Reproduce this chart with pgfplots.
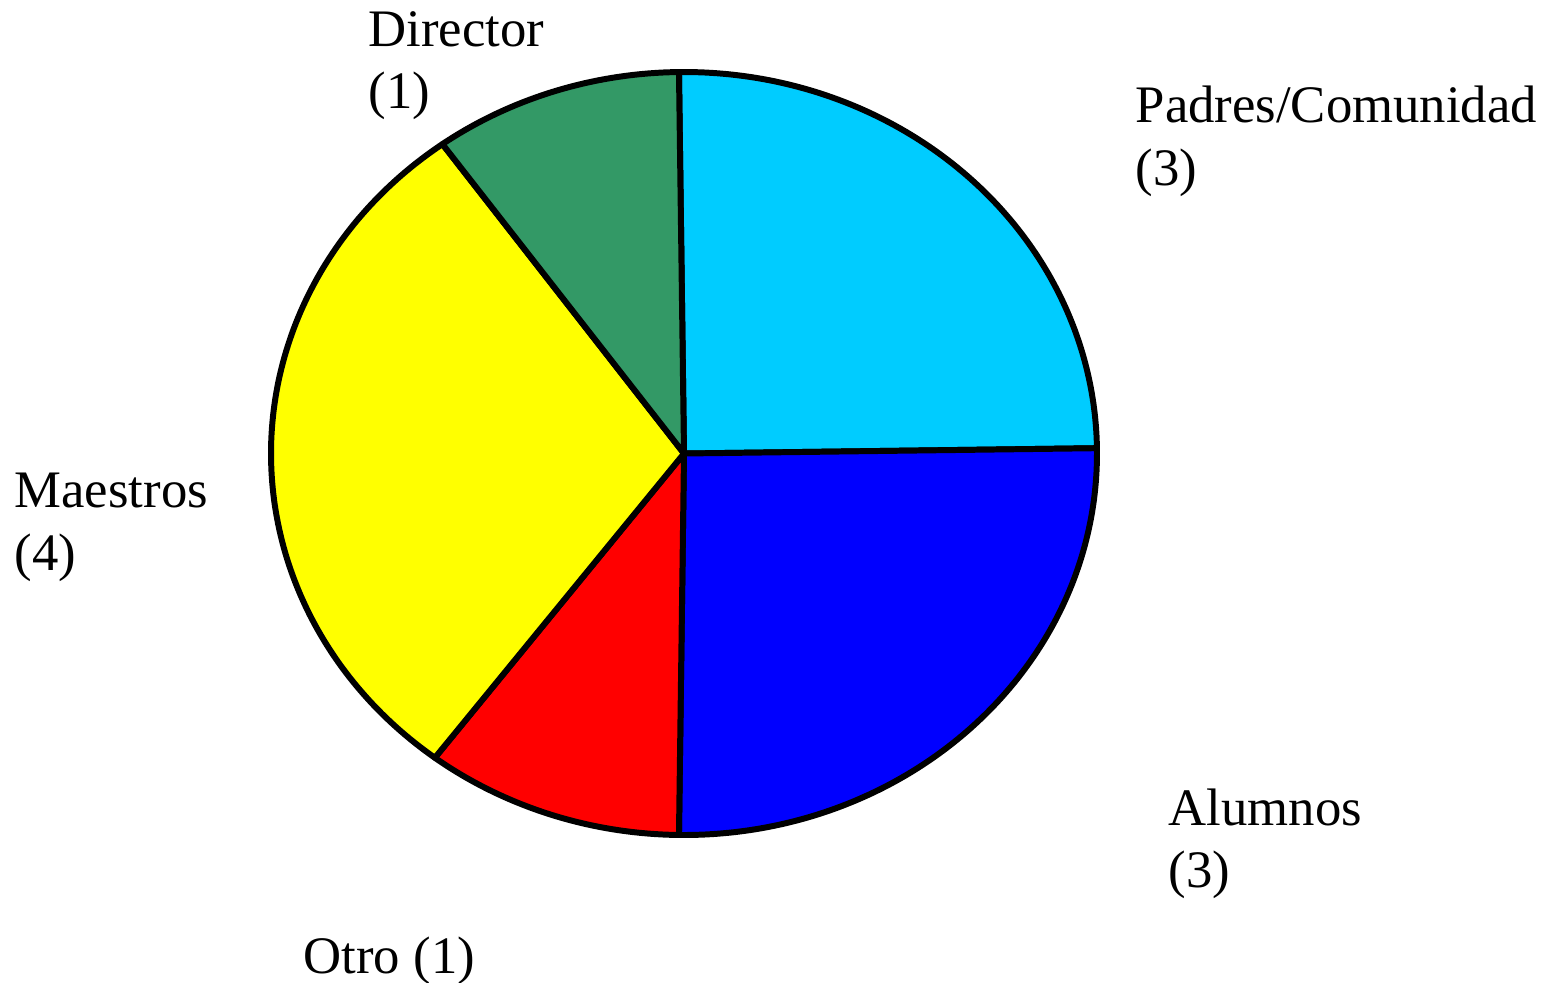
\documentclass[border=0pt]{standalone}
\usepackage{pgfplots}
\pgfplotsset{compat=1.18}
\usepackage{fontspec}
\setmainfont{Liberation Serif}
\definecolor{cPadres}{HTML}{00CCFF}
\definecolor{cAlumnos}{HTML}{0000FF}
\definecolor{cOtro}{HTML}{FF0000}
\definecolor{cMaestros}{HTML}{FFFF00}
\definecolor{cDirector}{HTML}{339966}
\begin{document}
\begin{tikzpicture}
\begin{axis}[
  width=15.58cm, height=9.82cm, scale only axis,
  xmin=0, xmax=1558, ymin=0, ymax=982,
  hide axis, clip=false,
  every axis plot/.append style={draw=black, line width=1.7pt, line join=round, samples=120, variable=\t},
]
% slices: start and end angle (degrees), as drawn
% Padres/Comunidad 0.8--90.7, Alumnos -90.7--0.8, Otro -127.1--(-90.7),
% Maestros 125.8--232.9, Director 90.7--125.8
\addplot[fill=cPadres, domain=0.8:90.7] ({684+413*cos(t)},{528.5+381.5*sin(t)}) -- (684,528.5) -- cycle;
\addplot[fill=cAlumnos, domain=-90.7:0.8] ({684+413*cos(t)},{528.5+381.5*sin(t)}) -- (684,528.5) -- cycle;
\addplot[fill=cOtro, domain=-127.1:-90.7] ({684+413*cos(t)},{528.5+381.5*sin(t)}) -- (684,528.5) -- cycle;
\addplot[fill=cMaestros, domain=125.8:232.9] ({684+413*cos(t)},{528.5+381.5*sin(t)}) -- (684,528.5) -- cycle;
\addplot[fill=cDirector, domain=90.7:125.8] ({684+413*cos(t)},{528.5+381.5*sin(t)}) -- (684,528.5) -- cycle;

\begin{scope}[every node/.style={anchor=base west, inner sep=0pt, font=\fontsize{15}{18}\selectfont}]
\node at (axis cs:368,936) {Director};
\node at (axis cs:368,874) {(1)};
\node at (axis cs:1135,860) {Padres/Comunidad};
\node at (axis cs:1135,797) {(3)};
\node at (axis cs:14,475) {Maestros};
\node at (axis cs:14,412) {(4)};
\node at (axis cs:1168,157) {Alumnos};
\node at (axis cs:1168,95) {(3)};
\node at (axis cs:303,9) {Otro (1)};
\end{scope}
\end{axis}
\pgfresetboundingbox
\path (current axis.south west) rectangle (current axis.north east);
\end{tikzpicture}
\end{document}
